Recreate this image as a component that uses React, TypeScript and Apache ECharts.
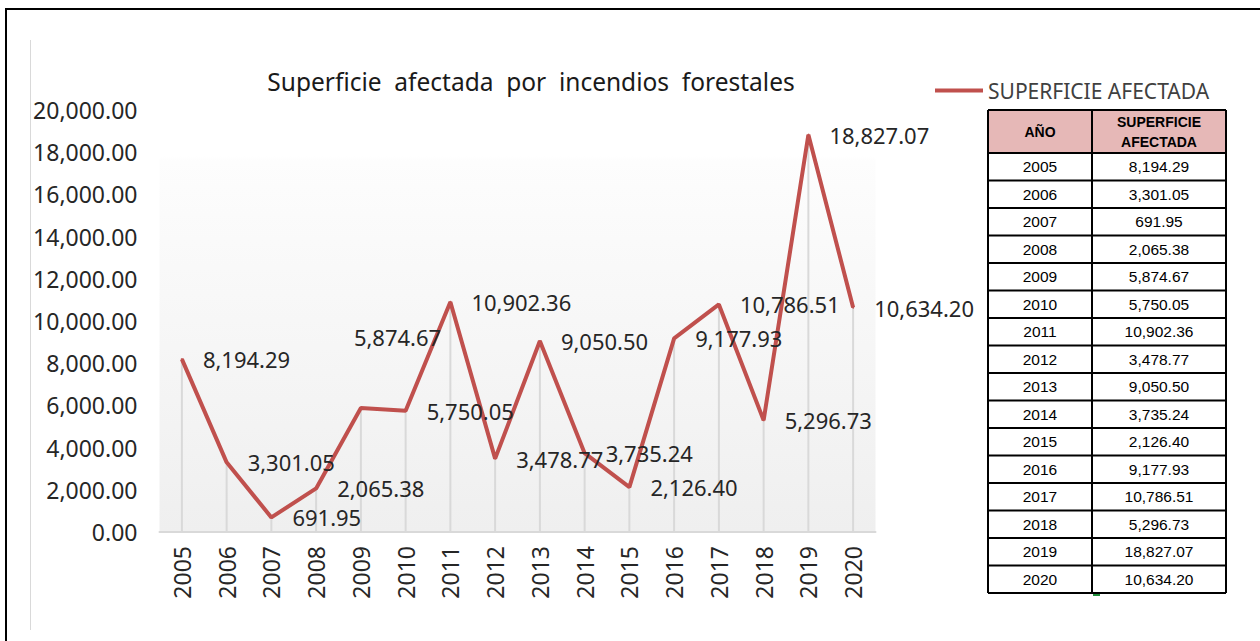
import React, { useEffect, useRef } from "react";
import * as echarts from "echarts";

const years = ["2005", "2006", "2007", "2008", "2009", "2010", "2011", "2012", "2013", "2014", "2015", "2016", "2017", "2018", "2019", "2020"];
const superficie = [8194.29, 3301.05, 691.95, 2065.38, 5874.67, 5750.05, 10902.36, 3478.77, 9050.5, 3735.24, 2126.4, 9177.93, 10786.51, 5296.73, 18827.07, 10634.2];
const seriesName = "SUPERFICIE AFECTADA";
const titleText = "Superficie  afectada  por  incendios  forestales";
const tableHeaders = ["AÑO", "SUPERFICIE\nAFECTADA"];

const fmt = (v: number) =>
  v.toLocaleString("en-US", { minimumFractionDigits: 2, maximumFractionDigits: 2 });

const FONT = "'Noto Sans', 'Open Sans', sans-serif";
const TFONT = "'Liberation Sans', Arial, sans-serif";

function buildTable() {
  const left = 988, mid = 1092, right = 1226;
  const headTop = 110, headBottom = 153, rowH = 27.5;
  const bottom = headBottom + rowH * years.length;
  const els: any[] = [];
  els.push({ type: "rect", shape: { x: left, y: headTop, width: right - left, height: headBottom - headTop }, style: { fill: "#E6B8B7" } });
  els.push({ type: "rect", shape: { x: left, y: headBottom, width: right - left, height: bottom - headBottom }, style: { fill: "#ffffff" } });
  els.push({ type: "text", style: { text: tableHeaders[0], x: (left + mid) / 2, y: (headTop + headBottom) / 2, align: "center", verticalAlign: "middle", font: `bold 14px ${TFONT}`, fill: "#000" } });
  els.push({ type: "text", style: { text: tableHeaders[1], x: (mid + right) / 2, y: (headTop + headBottom) / 2, align: "center", verticalAlign: "middle", font: `bold 14px ${TFONT}`, fill: "#000", lineHeight: 20 } });
  years.forEach((y, i) => {
    const cy = headBottom + rowH * i + rowH / 2;
    els.push({ type: "text", style: { text: y, x: (left + mid) / 2, y: cy, align: "center", verticalAlign: "middle", font: `15.5px ${TFONT}`, fill: "#000" } });
    els.push({ type: "text", style: { text: fmt(superficie[i]), x: (mid + right) / 2, y: cy, align: "center", verticalAlign: "middle", font: `15.5px ${TFONT}`, fill: "#000" } });
  });
  const ls = { stroke: "#000", lineWidth: 2 };
  for (let i = 0; i <= years.length + 1; i++) {
    const yy = i === 0 ? headTop : headBottom + rowH * (i - 1);
    els.push({ type: "line", shape: { x1: left, y1: yy, x2: right, y2: yy }, style: ls });
  }
  [left, mid, right].forEach((xx) => {
    els.push({ type: "line", shape: { x1: xx, y1: headTop, x2: xx, y2: bottom }, style: ls });
  });
  els.push({ type: "rect", shape: { x: mid + 1, y: bottom + 1, width: 7, height: 2 }, style: { fill: "#1e8c3a" } });
  return els;
}

export default function App() {
  const ref = useRef<HTMLDivElement>(null);
  useEffect(() => {
    if (!ref.current) return;
    const chart = echarts.init(ref.current, null, { renderer: "svg" });
    const labelOffsets: Record<number, number[]> = { 4: [-28, -71] };
    chart.setOption({
      animation: false,
      backgroundColor: "#ffffff",
      title: {
        text: titleText,
        left: 526,
        top: 64,
        textAlign: "center",
        textStyle: { fontFamily: FONT, fontSize: 24.5, fontWeight: "normal", color: "#1a1a1a" },
      },
      legend: {
        data: [seriesName],
        left: 935,
        top: 80,
        padding: 0,
        icon: "rect",
        itemWidth: 48,
        itemHeight: 4,
        itemGap: 5,
        textStyle: { fontFamily: FONT, fontSize: 21, color: "#404040", padding: [0, 0, 0, 0] },
      },
      grid: {
        left: 159.5,
        right: 1260 - 875.5,
        top: 110,
        bottom: 641 - 532,
        show: true,
        borderWidth: 0,
        backgroundColor: new echarts.graphic.LinearGradient(0, 0, 0, 1, [
          { offset: 0, color: "#ffffff" },
          { offset: 0.11, color: "#ffffff" },
          { offset: 0.12, color: "#fdfdfd" },
          { offset: 1, color: "#efefef" },
        ]),
      },
      xAxis: {
        type: "category",
        data: years,
        boundaryGap: true,
        axisLine: { lineStyle: { color: "#d9d9d9", width: 2 } },
        axisTick: { show: false },
        axisLabel: { rotate: 90, margin: 14, fontFamily: FONT, fontSize: 23, color: "#262626" },
      },
      yAxis: {
        type: "value",
        min: 0,
        max: 20000,
        interval: 2000,
        splitLine: { show: false },
        axisLine: { show: false },
        axisTick: { show: false },
        axisLabel: { margin: 22, fontFamily: FONT, fontSize: 23, color: "#262626", formatter: (v: number) => fmt(v) },
      },
      series: [
        {
          name: "drop",
          type: "bar",
          data: superficie,
          barWidth: 2,
          silent: true,
          itemStyle: { color: "#d9d9d9" },
          z: 1,
        },
        {
          name: seriesName,
          type: "line",
          data: superficie.map((v, i) =>
            labelOffsets[i] ? { value: v, label: { offset: labelOffsets[i] } } : { value: v }
          ),
          symbol: "circle",
          symbolSize: 2,
          showSymbol: true,
          lineStyle: { color: "#C0504D", width: 4 },
          itemStyle: { color: "#C0504D" },
          z: 3,
          label: {
            show: true,
            position: "right",
            distance: 20,
            fontFamily: FONT,
            fontSize: 22,
            color: "#262626",
            formatter: (p: any) => fmt(p.value),
          },
        },
      ],
      graphic: [
        { type: "line", shape: { x1: 5, y1: 9, x2: 1260, y2: 9 }, style: { stroke: "#000", lineWidth: 2 } },
        { type: "line", shape: { x1: 6, y1: 8, x2: 6, y2: 641 }, style: { stroke: "#000", lineWidth: 2 } },
        { type: "line", shape: { x1: 30.5, y1: 40, x2: 30.5, y2: 630 }, style: { stroke: "#d9d9d9", lineWidth: 1 } },
        ...buildTable(),
      ],
    });
    return () => chart.dispose();
  }, []);
  return <div ref={ref} style={{ position: "fixed", left: 0, top: 0, width: 1260, height: 641, background: "#fff" }} />;
}
